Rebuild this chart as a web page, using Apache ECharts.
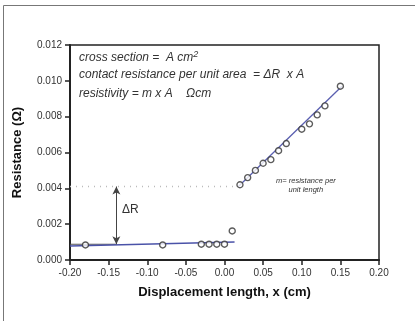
<!DOCTYPE html>
<html><head><meta charset="utf-8">
<script src="https://cdn.jsdelivr.net/npm/echarts@6/dist/echarts.min.js"></script>
<style>html,body{margin:0;padding:0;background:#fff}#c{width:415px;height:321px}</style>
</head><body><div id="c"></div>
<script>
// Data
const xTicks = [-0.20,-0.15,-0.10,-0.05,0.00,0.05,0.10,0.15,0.20];
const yTicks = [0.000,0.002,0.004,0.006,0.008,0.010,0.012];
const contactX = [-0.18,-0.08,-0.03,-0.02,-0.01,0.00,0.01];
const contactY = [0.00084,0.00084,0.00088,0.00088,0.00088,0.00088,0.00162];
const bulkX = [0.02,0.03,0.04,0.05,0.06,0.07,0.08,0.10,0.11,0.12,0.13,0.15];
const bulkY = [0.0042,0.0046,0.0050,0.0054,0.0056,0.0061,0.0065,0.0073,0.0076,0.0081,0.0086,0.0097];
const fitLeftX = [-0.20,0.013];
const fitLeftY = [0.00078,0.00100];
const fitRightX = [0.018,0.152];
const fitRightY = [0.0041,0.0097];
const baseLineX = [-0.20,-0.14];
const baseLineY = [0.00088,0.00088];
const dottedX = [-0.20,0.018];
const dottedY = [0.0041,0.0041];
const arrowX = -0.14, arrowY0 = 0.00088, arrowY1 = 0.0041;

const zip = (a,b)=>a.map((v,i)=>[v,b[i]]);
const chart = echarts.init(document.getElementById('c'));
const txt = '#333';
const font = 'Liberation Sans, Arial, sans-serif';
chart.setOption({
  animation:false,
  grid:{left:70,right:36,top:45,bottom:61,show:true,borderColor:'#222',borderWidth:1.5},
  xAxis:{type:'value',min:-0.20,max:0.20,interval:0.05,
    name:'Displacement length, x (cm)',nameLocation:'middle',nameGap:26,
    nameTextStyle:{fontFamily:font,fontWeight:'bold',fontSize:13,color:'#111'},
    axisLine:{show:true,onZero:false,lineStyle:{color:'#222',width:2}},
    axisTick:{show:true,inside:false,length:5,lineStyle:{color:'#222',width:1.5}},
    axisLabel:{color:txt,fontSize:10,fontFamily:font,margin:8,formatter:v=>v.toFixed(2)},
    splitLine:{show:false}},
  yAxis:{type:'value',min:0,max:0.012,interval:0.002,
    name:'Resistance (Ω)',nameLocation:'middle',nameGap:46,
    nameTextStyle:{fontFamily:font,fontWeight:'bold',fontSize:13,color:'#111'},
    axisLine:{show:true,onZero:false,lineStyle:{color:'#222',width:2}},
    axisTick:{show:true,inside:false,length:5,lineStyle:{color:'#222',width:1.5}},
    axisLabel:{color:txt,fontSize:10,fontFamily:font,margin:8,formatter:v=>v.toFixed(3)},
    splitLine:{show:false}},
  series:[
    {type:'line',data:zip(dottedX,dottedY),symbol:'none',lineStyle:{color:'#bbb',width:1.5,type:[1,5]},z:1},
    {type:'line',data:zip(baseLineX,baseLineY),symbol:'none',lineStyle:{color:'#555',width:1.2},z:2,
      markLine:{silent:true,symbol:['arrow','arrow'],symbolSize:[6,8],label:{show:false},
        lineStyle:{color:'#444',width:1,type:'solid'},
        data:[[{coord:[arrowX,arrowY0]},{coord:[arrowX,arrowY1]}]]}},
    {type:'line',data:zip(fitLeftX,fitLeftY),symbol:'none',lineStyle:{color:'#4a52a8',width:1.5},z:3},
    {type:'line',data:zip(fitRightX,fitRightY),symbol:'none',lineStyle:{color:'#5a5fb0',width:1.3},z:3},
    {type:'scatter',data:zip(contactX,contactY),symbol:'circle',symbolSize:6,
      itemStyle:{color:'#fff',borderColor:'#333',borderWidth:1.4},z:5},
    {type:'scatter',data:zip(bulkX,bulkY),symbol:'circle',symbolSize:6,
      itemStyle:{color:'#fff',borderColor:'#333',borderWidth:1.4},z:5}
  ],
  graphic:[
    {type:'rect',shape:{x:3.5,y:5.5,width:430,height:340},style:{fill:'none',stroke:'#777',lineWidth:1},silent:true},
    {type:'text',left:79,top:50,style:{text:'{t|cross section =  A cm}{s|2}',
      rich:{t:{fontFamily:font,fontStyle:'italic',fontSize:12,fill:'#333'},
            s:{fontFamily:font,fontStyle:'italic',fontSize:9,fill:'#333',verticalAlign:'top',padding:[0,0,6,0]}}}},
    {type:'text',left:79,top:69,style:{text:'contact resistance per unit area  = ΔR  x A',
      font:'italic 12px '+font,fill:'#333'}},
    {type:'text',left:79,top:88,style:{text:'resistivity = m x A    Ωcm',
      font:'italic 12px '+font,fill:'#333'}},
    {type:'text',left:122,top:204,style:{text:'ΔR',font:'12px '+font,fill:'#333'}},
    {type:'text',left:276,top:176,style:{text:'m= resistance per\n      unit length',
      font:'italic 7.5px '+font,fill:'#333',lineHeight:9}}
  ]
});
</script></body></html>
